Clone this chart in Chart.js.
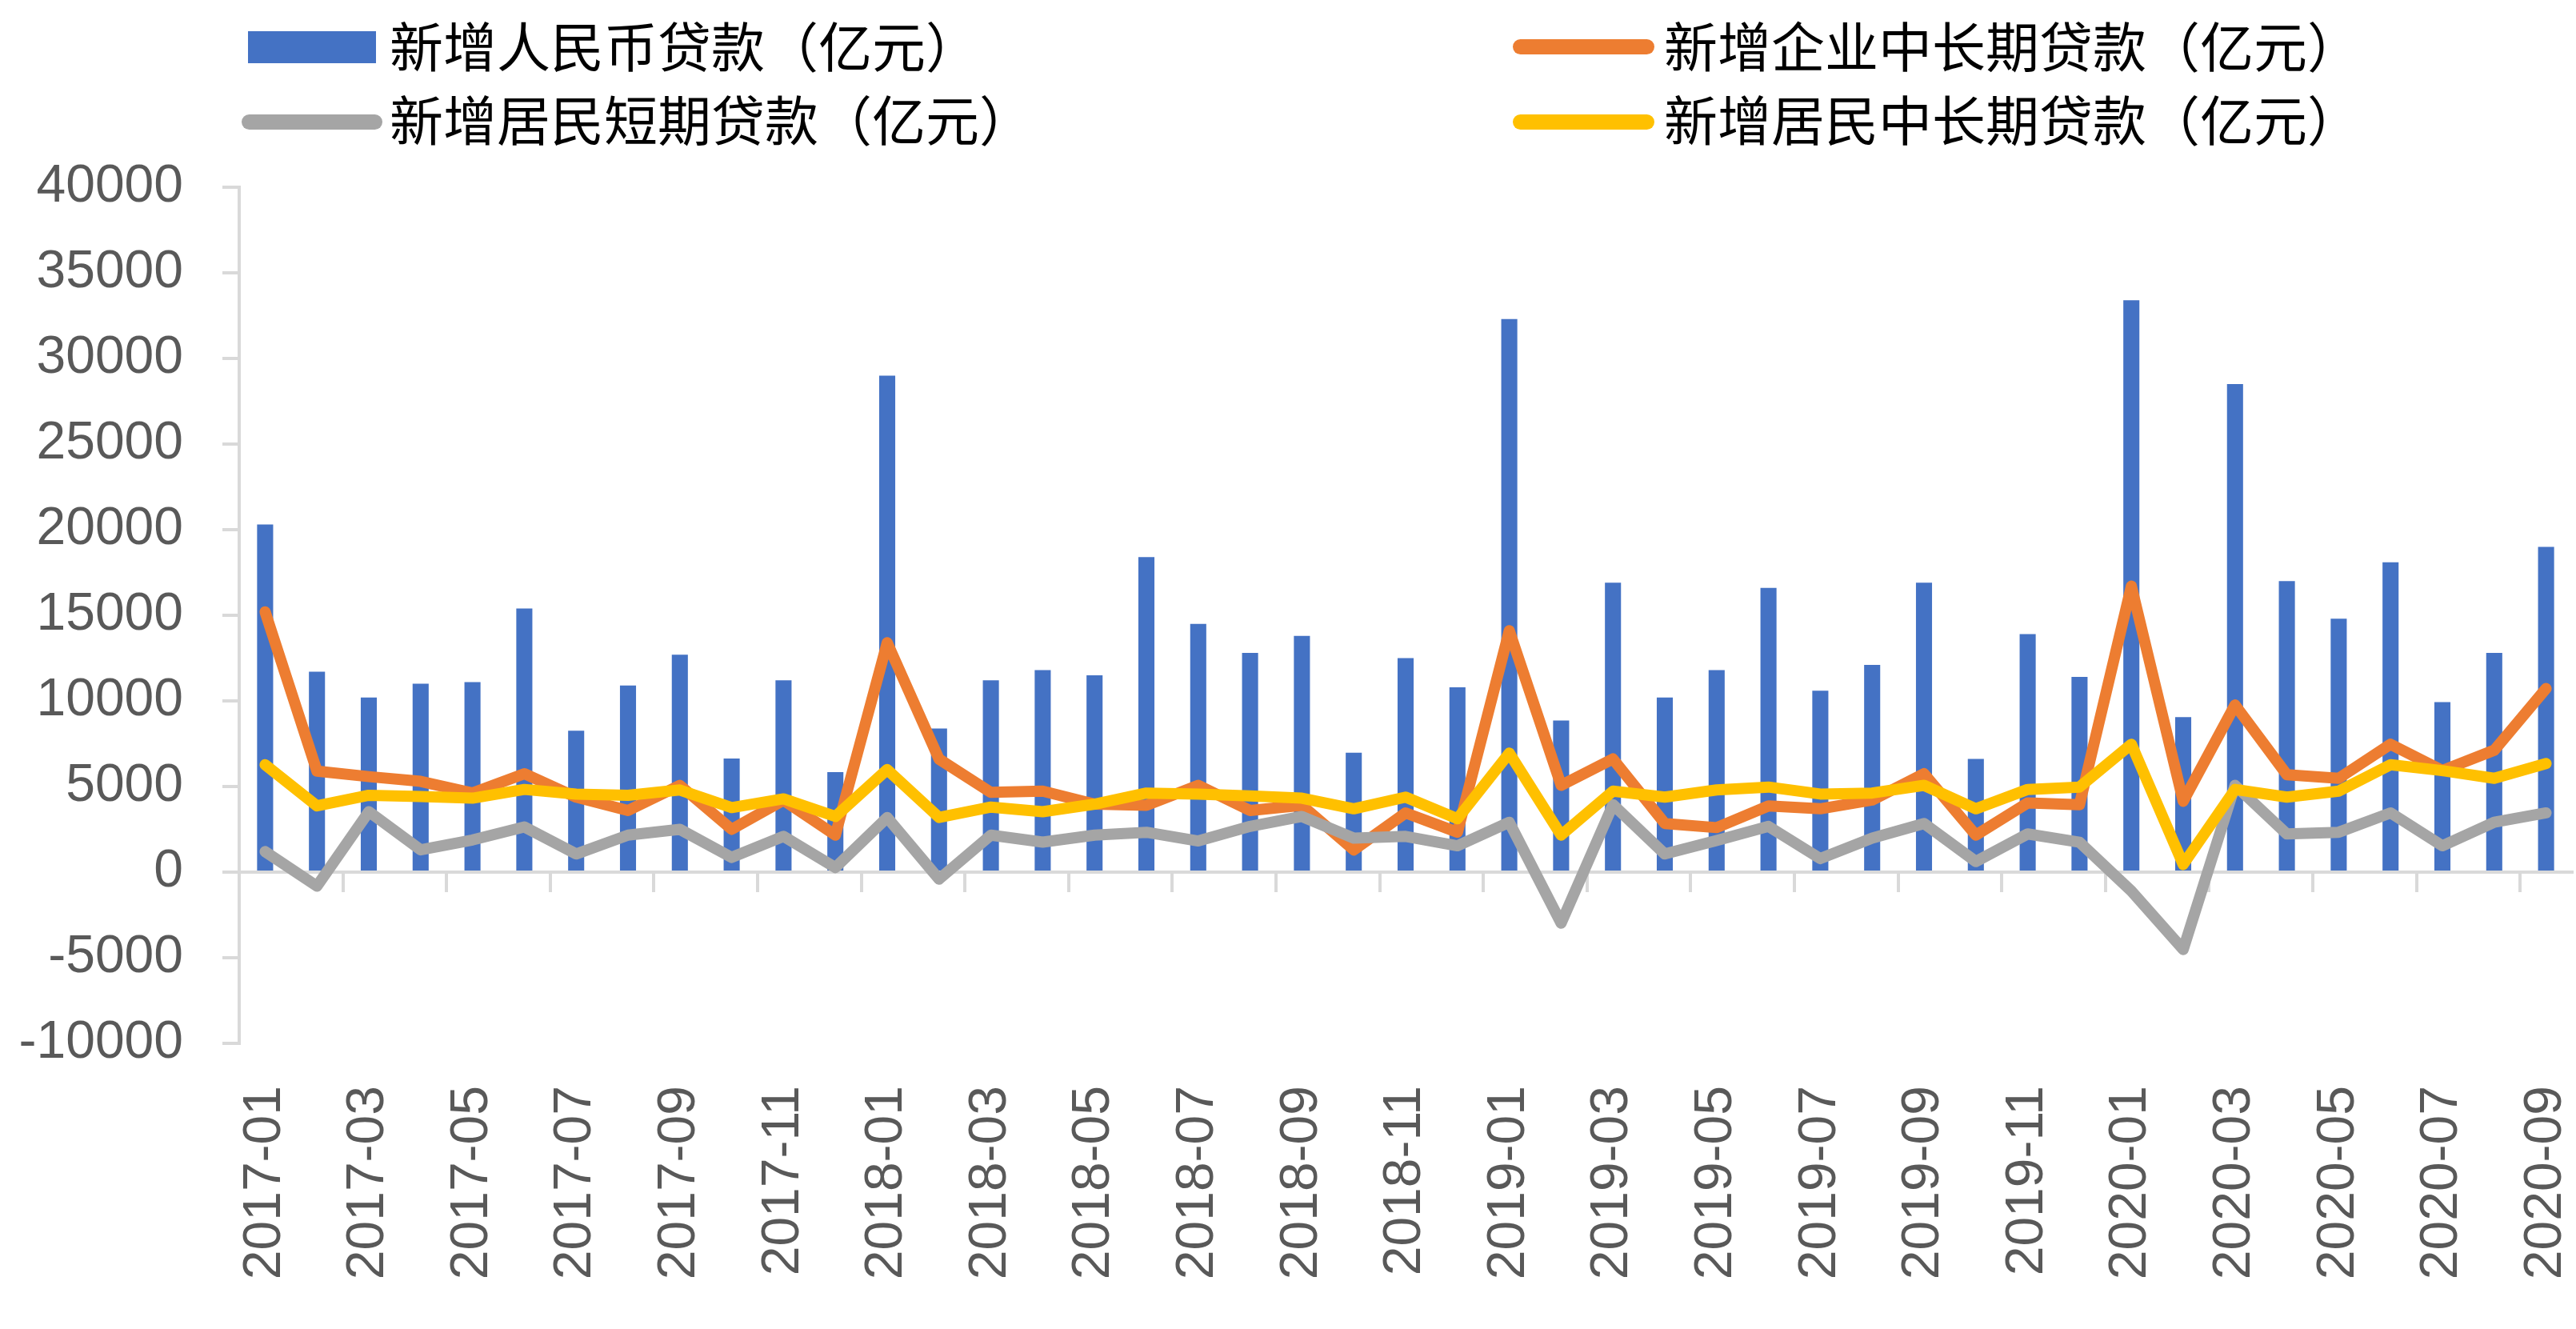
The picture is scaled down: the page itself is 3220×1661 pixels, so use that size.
<!DOCTYPE html>
<html lang="zh">
<head>
<meta charset="utf-8">
<title>新增贷款</title>
<script src="https://cdn.jsdelivr.net/npm/chart.js@4.4.1/dist/chart.umd.min.js"></script>
<style>
  body { margin: 0; background: #fff; }
  .wrap { position: relative; width: 3220px; height: 1661px; }
  .sw { position: absolute; }
  .lbl { position: absolute; font-family: "Noto Sans CJK SC"; font-size: 67px; line-height: 67px; color: #000; white-space: nowrap; }
</style>
</head>
<body>
<div class="wrap">
  <canvas id="loans" width="3220" height="1661"></canvas>
  <!-- легенда: 2 ряда по 2 -->
  <div class="sw" style="left:310px;top:39px;width:160px;height:40px;background:#4472C4"></div>
  <div class="lbl" style="left:487px;top:21px">新增人民币贷款（亿元）</div>
  <div class="sw" style="left:1891px;top:49px;width:177px;height:19px;border-radius:10px;background:#ED7D31"></div>
  <div class="lbl" style="left:2080px;top:21px">新增企业中长期贷款（亿元）</div>
  <div class="sw" style="left:302px;top:143px;width:176px;height:19px;border-radius:10px;background:#A5A5A5"></div>
  <div class="lbl" style="left:487px;top:113px">新增居民短期贷款（亿元）</div>
  <div class="sw" style="left:1891px;top:143px;width:177px;height:19px;border-radius:10px;background:#FFC000"></div>
  <div class="lbl" style="left:2080px;top:113px">新增居民中长期贷款（亿元）</div>
</div>
<script>
const months = [
  '2017-01','2017-02','2017-03','2017-04','2017-05','2017-06','2017-07','2017-08','2017-09','2017-10','2017-11','2017-12',
  '2018-01','2018-02','2018-03','2018-04','2018-05','2018-06','2018-07','2018-08','2018-09','2018-10','2018-11','2018-12',
  '2019-01','2019-02','2019-03','2019-04','2019-05','2019-06','2019-07','2019-08','2019-09','2019-10','2019-11','2019-12',
  '2020-01','2020-02','2020-03','2020-04','2020-05','2020-06','2020-07','2020-08','2020-09'
];

// 新增人民币贷款
const newRmbLoans = [
  20300, 11700, 10200, 11000, 11100, 15400, 8255, 10900, 12700, 6632, 11200, 5844,
  29000, 8393, 11200, 11800, 11500, 18400, 14500, 12800, 13800, 6970, 12500, 10800,
  32300, 8858, 16900, 10200, 11800, 16600, 10600, 12100, 16900, 6613, 13900, 11400,
  33400, 9057, 28500, 17000, 14800, 18100, 9927, 12800, 19000
];

// 新增企业中长期贷款
const corpLongLoans = [
  15200, 5900, 5580, 5300, 4620, 5750, 4380, 3600, 5070, 2500, 4200, 2160,
  13400, 6600, 4660, 4730, 3970, 3900, 5070, 3600, 3900, 1300, 3460, 2330,
  14100, 5070, 6610, 2840, 2600, 3870, 3700, 4210, 5750, 2160, 4040, 3940,
  16700, 4140, 9760, 5690, 5480, 7470, 5930, 7120, 10720
];

// 新增居民短期贷款
const houseShortLoans = [
  1200, -820, 3530, 1300, 1880, 2640, 1060, 2160, 2500, 860, 2090, 270,
  3190, -410, 2160, 1750, 2160, 2330, 1820, 2670, 3250, 1990, 2090, 1540,
  2910, -2980, 3940, 1060, 1850, 2670, 790, 1990, 2840, 620, 2230, 1750,
  -1100, -4520, 5070, 2230, 2330, 3460, 1540, 2910, 3460
];

// 新增居民中长期贷款
const houseLongLoans = [
  6270, 3870, 4490, 4420, 4320, 4830, 4560, 4490, 4800, 3770, 4280, 3250,
  5990, 3190, 3800, 3530, 3970, 4620, 4560, 4450, 4320, 3700, 4380, 3120,
  6950, 2160, 4730, 4380, 4800, 4970, 4560, 4620, 5070, 3700, 4830, 4970,
  7470, 450, 4830, 4380, 4730, 6270, 5930, 5480, 6340
];

const axisGrey = '#D9D9D9';
const labelGrey = '#595959';
const tickFont = { family: 'Liberation Sans', size: 66 };

function lineSet(label, data, color, order) {
  return {
    type: 'line',
    label: label,
    data: data,
    borderColor: color,
    backgroundColor: color,
    borderWidth: 14,
    borderJoinStyle: 'round',
    borderCapStyle: 'round',
    pointRadius: 0,
    tension: 0,
    order: order
  };
}

const ctx = document.getElementById('loans').getContext('2d');
new Chart(ctx, {
  type: 'bar',
  data: {
    labels: months,
    datasets: [
      {
        type: 'bar',
        label: '新增人民币贷款（亿元）',
        data: newRmbLoans,
        backgroundColor: '#4472C4',
        barPercentage: 0.31,
        categoryPercentage: 1,
        order: 4
      },
      lineSet('新增企业中长期贷款（亿元）', corpLongLoans, '#ED7D31', 3),
      lineSet('新增居民短期贷款（亿元）', houseShortLoans, '#A5A5A5', 2),
      lineSet('新增居民中长期贷款（亿元）', houseLongLoans, '#FFC000', 1)
    ]
  },
  options: {
    responsive: false,
    animation: false,
    devicePixelRatio: 1,
    layout: { padding: { top: 234, left: 22, right: 5, bottom: 0 } },
    plugins: { legend: { display: false }, tooltip: { enabled: false } },
    scales: {
      // подписи месяцев внизу, под -10000
      x: {
        offset: true,
        grid: { display: false, drawTicks: false },
        border: { display: false },
        ticks: {
          autoSkip: false,
          minRotation: 90,
          maxRotation: 90,
          padding: 53,
          color: labelGrey,
          font: tickFont,
          callback: (v, i) => (i % 2 === 0 ? months[i] : '')
        },
        afterFit: s => { s.height = 357; s.paddingLeft = 0; s.paddingRight = 0; }
      },
      // линия оси на нуле с засечками через 2 месяца
      x0: {
        axis: 'x',
        type: 'category',
        offset: true,
        position: { y: 0 },
        ticks: { display: false },
        grid: {
          offset: true,
          drawOnChartArea: false,
          tickLength: 23,
          lineWidth: 4,
          color: c => (c.index !== undefined && c.index % 2 === 0 ? axisGrey : 'rgba(0,0,0,0)')
        },
        border: { color: axisGrey, width: 4 }
      },
      y: {
        min: -10000,
        max: 40000,
        ticks: {
          stepSize: 5000,
          padding: 49,
          color: labelGrey,
          font: tickFont,
          callback: v => String(v)
        },
        grid: { drawOnChartArea: false, tickLength: 21, lineWidth: 4, color: axisGrey },
        border: { color: axisGrey, width: 4 },
        afterFit: s => { s.width = 277; }
      }
    }
  }
});
</script>
</body>
</html>
